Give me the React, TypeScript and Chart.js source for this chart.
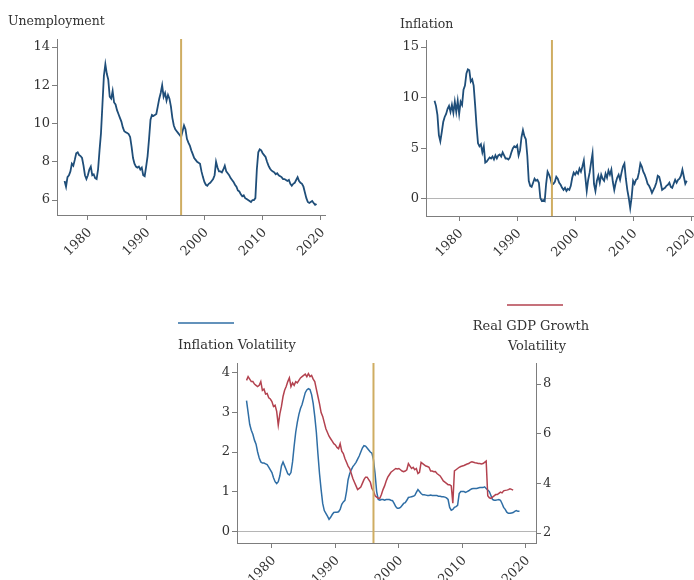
import React, { useEffect, useRef } from 'react';
import { Chart, registerables } from 'chart.js';

Chart.register(...registerables);

// ---------------- DATA ----------------
const QUARTER = 0.25;
const YEAR_TICKS = [1980, 1990, 2000, 2010, 2020];
const MARKER_YEAR = 1996;

const UNEMP_TICKS = [6, 8, 10, 12, 14];
const INFL_TICKS = [0, 5, 10, 15];
const VOL_LEFT_TICKS = [0, 1, 2, 3, 4];
const VOL_RIGHT_TICKS = [2, 4, 6, 8];

const UNEMP_START = 1976;
const unemployment = [
  7.0, 6.7, 7.2, 7.3,
  7.5, 7.9, 7.8, 8.1,
  8.45, 8.5, 8.35, 8.3,
  8.2, 7.8, 7.3, 7.1,
  7.3, 7.6, 7.75, 7.3,
  7.35, 7.15, 7.1, 7.6,
  8.6, 9.5, 11.0, 12.5,
  13.1, 12.6, 12.3, 11.4,
  11.3, 11.7, 11.1, 11.0,
  10.7, 10.5, 10.3, 10.1,
  9.8, 9.6, 9.55, 9.5,
  9.45, 9.3, 8.8, 8.2,
  7.9, 7.75, 7.7, 7.75,
  7.6, 7.7, 7.3, 7.25,
  7.75, 8.3, 9.2, 10.2,
  10.45, 10.4, 10.45, 10.5,
  10.9, 11.3, 11.6, 12.0,
  11.4, 11.6, 11.2, 11.5,
  11.3, 10.9, 10.3, 9.9,
  9.7, 9.6, 9.5, 9.4,
  9.3, 9.6, 9.9, 9.7,
  9.2, 9.0, 8.85, 8.6,
  8.4, 8.2, 8.1, 8.0,
  7.95, 7.9, 7.5, 7.2,
  6.95, 6.8, 6.75, 6.85,
  6.9, 7.0, 7.1, 7.3,
  8.0, 7.7, 7.5, 7.5,
  7.45, 7.6, 7.8, 7.5,
  7.4, 7.3, 7.15, 7.05,
  6.95, 6.8, 6.7, 6.5,
  6.45, 6.3, 6.2, 6.25,
  6.1, 6.05, 6.0, 5.95,
  5.9, 6.0, 6.0, 6.1,
  7.6, 8.5, 8.65, 8.6,
  8.45, 8.35, 8.25, 8.0,
  7.8, 7.65, 7.55, 7.5,
  7.45, 7.35, 7.4, 7.3,
  7.25, 7.2, 7.1, 7.1,
  7.05, 7.0, 7.05, 6.85,
  6.75, 6.85, 6.9, 7.05,
  7.2, 7.0, 6.9, 6.85,
  6.7, 6.4, 6.1, 5.9,
  5.85, 5.9, 5.95, 5.85,
  5.75, 5.8,
];

const INFL_START = 1975.75;
const inflation = [
  9.7,
  9.2, 8.3, 6.3, 5.7,
  6.6, 7.6, 8.1, 8.4,
  8.9, 9.2, 8.6, 9.3,
  8.5, 9.6, 8.6, 9.7,
  8.4, 9.6, 9.3, 10.8,
  11.2, 12.4, 12.8, 12.7,
  11.6, 11.8, 11.2, 9.3,
  7.2, 5.5, 5.2, 5.4,
  4.6, 5.2, 3.6, 3.7,
  3.9, 4.1, 4.0, 4.2,
  3.9, 4.3, 4.0, 4.3,
  4.4, 4.2, 4.6, 4.3,
  4.0, 4.0, 3.9, 4.1,
  4.6, 5.0, 5.2, 5.1,
  5.3, 4.3, 4.8, 6.1,
  6.8, 6.2, 5.9, 4.3,
  1.8, 1.3, 1.2, 1.6,
  2.0, 1.8, 1.9, 1.6,
  0.1, -0.2, -0.1, -0.2,
  1.5, 2.7, 2.4, 2.0,
  1.4, 1.5, 1.7, 2.2,
  2.0, 1.6, 1.4, 1.1,
  0.9, 1.1, 0.8, 1.0,
  0.9, 1.3, 2.1, 2.6,
  2.4, 2.7, 2.5, 3.0,
  2.7, 3.2, 3.8, 2.2,
  0.8, 1.9, 2.6, 3.6,
  4.5, 1.5, 0.8, 1.8,
  2.3, 1.6, 2.4, 2.0,
  1.8, 2.5, 2.1, 2.8,
  2.4, 2.9, 1.7, 0.9,
  1.6, 2.1, 2.4, 1.9,
  2.6, 3.2, 3.5, 2.0,
  0.9, 0.1, -0.9, 0.2,
  1.8, 1.5, 1.9, 2.0,
  2.6, 3.5, 3.2, 2.7,
  2.4, 2.0, 1.5, 1.3,
  1.0, 0.6, 0.9, 1.2,
  1.6, 2.3, 2.2, 1.6,
  0.9, 1.0, 1.1, 1.3,
  1.4, 1.6, 1.2, 1.1,
  1.5, 1.9, 1.6, 1.9,
  2.0, 2.3, 2.9, 2.2,
  1.5, 1.8,
];

const VOL_START = 1976;
const inflationVolatility = [
  3.3, 3.0, 2.7, 2.55,
  2.45, 2.3, 2.2, 2.0,
  1.85, 1.75, 1.72, 1.72,
  1.7, 1.68, 1.62, 1.55,
  1.48, 1.35, 1.25, 1.2,
  1.25, 1.4, 1.65, 1.75,
  1.65, 1.55, 1.45, 1.42,
  1.48, 1.75, 2.15, 2.5,
  2.75, 2.95, 3.1, 3.2,
  3.35, 3.5, 3.57, 3.6,
  3.58, 3.45, 3.23, 2.9,
  2.5, 1.95, 1.45, 1.05,
  0.7, 0.52, 0.45, 0.38,
  0.3, 0.35, 0.42, 0.47,
  0.48, 0.48, 0.49, 0.55,
  0.68, 0.74, 0.78, 1.0,
  1.3, 1.45, 1.55, 1.63,
  1.68, 1.74, 1.82, 1.9,
  2.0, 2.1, 2.16, 2.15,
  2.1, 2.05, 2.0, 1.97,
  1.8, 1.45, 1.0, 0.8,
  0.78, 0.8, 0.8, 0.78,
  0.8, 0.8, 0.8, 0.78,
  0.77, 0.7, 0.62, 0.58,
  0.58, 0.6, 0.65, 0.7,
  0.72, 0.78, 0.85, 0.86,
  0.87, 0.88, 0.9, 0.98,
  1.05, 1.0, 0.95, 0.92,
  0.92, 0.91, 0.9, 0.9,
  0.91, 0.9, 0.9, 0.9,
  0.9, 0.88, 0.88, 0.87,
  0.87, 0.86, 0.84, 0.8,
  0.6, 0.53, 0.55, 0.6,
  0.62, 0.65, 0.95, 1.0,
  1.0, 1.0, 0.98, 1.0,
  1.02, 1.05, 1.07, 1.08,
  1.08, 1.08, 1.09, 1.1,
  1.1, 1.1, 1.12, 1.08,
  1.04, 1.0, 0.9, 0.8,
  0.78, 0.78, 0.79, 0.8,
  0.78, 0.7, 0.6, 0.55,
  0.48, 0.45, 0.45, 0.46,
  0.47, 0.5, 0.52, 0.5,
  0.5,
];

const gdpVolatility = [
  8.15, 8.3, 8.2, 8.1,
  8.1, 8.0, 7.95, 7.9,
  7.95, 8.1, 7.75, 7.8,
  7.6, 7.62, 7.45, 7.4,
  7.3, 7.1, 7.15, 6.9,
  6.35, 6.8, 7.1, 7.5,
  7.75, 7.9, 8.1, 8.25,
  7.9, 8.05, 7.95, 8.1,
  8.05, 8.15, 8.25, 8.3,
  8.35, 8.4, 8.3, 8.42,
  8.3, 8.35, 8.2, 8.1,
  7.8, 7.5, 7.2, 6.85,
  6.7, 6.45, 6.2, 6.05,
  5.9, 5.8, 5.7, 5.6,
  5.55, 5.45, 5.4, 5.6,
  5.3, 5.2, 5.0, 4.85,
  4.7, 4.6, 4.4, 4.2,
  4.05, 3.9, 3.75, 3.8,
  3.85, 4.0, 4.15, 4.25,
  4.25, 4.15, 4.05, 3.8,
  3.7, 3.5, 3.45, 3.4,
  3.4, 3.55, 3.75, 3.9,
  4.1, 4.25, 4.35, 4.45,
  4.5, 4.55, 4.6, 4.58,
  4.6, 4.55, 4.5, 4.47,
  4.5, 4.55, 4.8, 4.7,
  4.6, 4.65, 4.55, 4.6,
  4.4, 4.45, 4.85, 4.8,
  4.75, 4.7, 4.68, 4.65,
  4.5, 4.5, 4.47, 4.48,
  4.4, 4.35, 4.3, 4.2,
  4.1, 4.05, 4.0, 3.95,
  3.95, 3.9, 3.2, 4.5,
  4.55, 4.6, 4.65, 4.68,
  4.7, 4.72, 4.75, 4.78,
  4.8, 4.85, 4.87, 4.85,
  4.83, 4.82, 4.8, 4.8,
  4.78, 4.8, 4.85, 4.9,
  3.5, 3.42, 3.4, 3.45,
  3.5, 3.55, 3.55, 3.6,
  3.65, 3.62, 3.7, 3.72,
  3.73, 3.75, 3.78, 3.76,
  3.73,
];

// ---------------- STYLE ----------------
const FONT = "'DejaVu Serif', 'Liberation Serif', serif";
const TEXT = '#333333';
const AXIS = '#7d7d7d';
const ZERO = '#b5b5b5';
const NAVY = '#1f4e79';
const BLUE = '#2f6ea5';
const RED = '#b3424f';
const GOLD = '#cfad62';

const toPoints = (start: number, values: number[]) =>
  values.map((v, i) => ({ x: start + i * QUARTER, y: v }));

const markerPlugin = {
  id: 'marker',
  afterDatasetsDraw(chart: any, _a: any, opts: any) {
    if (opts == null || opts.value == null) return;
    const ctx = chart.ctx;
    const x = chart.scales.x.getPixelForValue(opts.value);
    const { top, bottom } = chart.chartArea;
    ctx.save();
    ctx.strokeStyle = opts.color;
    ctx.lineWidth = opts.width;
    ctx.beginPath();
    ctx.moveTo(x, top);
    ctx.lineTo(x, bottom);
    ctx.stroke();
    ctx.restore();
  },
};

const textPlugin = {
  id: 'panelText',
  afterDraw(chart: any, _a: any, opts: any) {
    const items = (opts && opts.items) || [];
    const ctx = chart.ctx;
    ctx.save();
    for (const it of items) {
      if (it.kind === 'line') {
        ctx.strokeStyle = it.color;
        ctx.lineWidth = it.width;
        ctx.beginPath();
        ctx.moveTo(it.x1, it.y);
        ctx.lineTo(it.x2, it.y);
        ctx.stroke();
      } else {
        ctx.font = `${it.size}px ${FONT}`;
        ctx.fillStyle = TEXT;
        ctx.textAlign = it.align || 'left';
        ctx.textBaseline = 'alphabetic';
        ctx.fillText(it.text, it.x, it.y);
      }
    }
    ctx.restore();
  },
};

function xAxis(min: number, max: number, height: number) {
  return {
    type: 'linear',
    min,
    max,
    afterBuildTicks: (s: any) => {
      s.ticks = YEAR_TICKS.map((v) => ({ value: v }));
    },
    afterFit: (s: any) => {
      s.height = height;
      s.paddingLeft = 0;
      s.paddingRight = 0;
    },
    ticks: {
      autoSkip: false,
      minRotation: 45,
      maxRotation: 45,
      padding: 5,
      labelOffset: 2,
      color: TEXT,
      font: { family: FONT, size: 13 },
      callback: (v: any) => String(v),
    },
    grid: {
      display: true,
      drawOnChartArea: false,
      drawTicks: true,
      tickLength: 5,
      color: AXIS,
      tickColor: AXIS,
    },
    border: { display: true, color: AXIS, width: 1 },
  };
}

function yAxis(position: string, min: number, max: number, ticks: number[], width: number, zeroLine: boolean) {
  return {
    type: 'linear',
    position,
    min,
    max,
    afterBuildTicks: (s: any) => {
      s.ticks = ticks.map((v) => ({ value: v }));
    },
    afterFit: (s: any) => {
      s.width = width;
      s.paddingTop = 0;
      s.paddingBottom = 0;
    },
    ticks: {
      padding: 2,
      color: TEXT,
      font: { family: FONT, size: 13 },
      callback: (v: any) => String(v),
    },
    grid: {
      display: true,
      drawOnChartArea: zeroLine,
      drawTicks: true,
      tickLength: 5,
      lineWidth: 1,
      color: (c: any) => (c.tick && c.tick.value === 0 ? ZERO : 'rgba(0,0,0,0)'),
      tickColor: AXIS,
    },
    border: { display: true, color: AXIS, width: 1 },
  };
}

function baseOptions(padding: any, scales: any, items: any[]) {
  return {
    animation: false,
    responsive: false,
    events: [],
    layout: { padding },
    plugins: {
      legend: { display: false },
      tooltip: { enabled: false },
      marker: { value: MARKER_YEAR, color: GOLD, width: 2 },
      panelText: { items },
    },
    scales,
  };
}

export default function App() {
  const aRef = useRef<HTMLCanvasElement>(null);
  const bRef = useRef<HTMLCanvasElement>(null);
  const cRef = useRef<HTMLCanvasElement>(null);

  useEffect(() => {
    const charts: Chart[] = [];

    charts.push(
      new Chart(aRef.current as HTMLCanvasElement, {
        type: 'line',
        data: {
          datasets: [
            {
              data: toPoints(UNEMP_START, unemployment),
              borderColor: NAVY,
              borderWidth: 1.8,
              pointRadius: 0,
              tension: 0,
              fill: false,
            },
          ],
        },
        options: baseOptions(
          { top: 39, right: 22, left: 0, bottom: 0 },
          {
            x: xAxis(1974.7, 2020.7, 75),
            y: yAxis('left', 5.22, 14.42, UNEMP_TICKS, 57, false),
          },
          [{ kind: 'text', text: 'Unemployment', x: 8, y: 25, size: 12.5 }]
        ) as any,
        plugins: [markerPlugin, textPlugin],
      } as any)
    );

    charts.push(
      new Chart(bRef.current as HTMLCanvasElement, {
        type: 'line',
        data: {
          datasets: [
            {
              data: toPoints(INFL_START, inflation),
              borderColor: NAVY,
              borderWidth: 1.8,
              pointRadius: 0,
              tension: 0,
              fill: false,
            },
          ],
        },
        options: baseOptions(
          { top: 40, right: 0, left: 0, bottom: 0 },
          {
            x: xAxis(1974.28, 2020.5, 74),
            y: yAxis('left', -1.68, 15.7, INFL_TICKS, 79, true),
          },
          [{ kind: 'text', text: 'Inflation', x: 53, y: 28, size: 12.5 }]
        ) as any,
        plugins: [markerPlugin, textPlugin],
      } as any)
    );

    charts.push(
      new Chart(cRef.current as HTMLCanvasElement, {
        type: 'line',
        data: {
          datasets: [
            {
              data: toPoints(VOL_START, gdpVolatility),
              borderColor: RED,
              borderWidth: 1.5,
              pointRadius: 0,
              tension: 0,
              fill: false,
              yAxisID: 'y2',
            },
            {
              data: toPoints(VOL_START, inflationVolatility),
              borderColor: BLUE,
              borderWidth: 1.5,
              pointRadius: 0,
              tension: 0,
              fill: false,
              yAxisID: 'y',
            },
          ],
        },
        options: baseOptions(
          { top: 73, right: 114, left: 0, bottom: 0 },
          {
            x: xAxis(1974.5, 2021.6, 37),
            y: yAxis('left', -0.3, 4.25, VOL_LEFT_TICKS, 77, true),
            y2: yAxis('right', 1.6, 8.85, VOL_RIGHT_TICKS, 44, false),
          },
          [
            { kind: 'line', x1: 18, x2: 74, y: 33, color: BLUE, width: 1.6 },
            { kind: 'text', text: 'Inflation Volatility', x: 18, y: 59, size: 13 },
            { kind: 'line', x1: 347, x2: 403, y: 15, color: RED, width: 1.6 },
            { kind: 'text', text: 'Real GDP Growth', x: 371, y: 40, size: 13, align: 'center' },
            { kind: 'text', text: 'Volatility', x: 377, y: 60, size: 13, align: 'center' },
          ]
        ) as any,
        plugins: [markerPlugin, textPlugin],
      } as any)
    );

    return () => charts.forEach((c) => c.destroy());
  }, []);

  return (
    <div
      style={{
        position: 'absolute',
        left: 0,
        top: 0,
        width: 694,
        height: 580,
        background: '#ffffff',
        overflow: 'hidden',
      }}
    >
      <canvas ref={aRef} width={347} height={290} style={{ position: 'absolute', left: 0, top: 0 }} />
      <canvas ref={bRef} width={347} height={290} style={{ position: 'absolute', left: 347, top: 0 }} />
      <canvas ref={cRef} width={534} height={290} style={{ position: 'absolute', left: 160, top: 290 }} />
    </div>
  );
}
